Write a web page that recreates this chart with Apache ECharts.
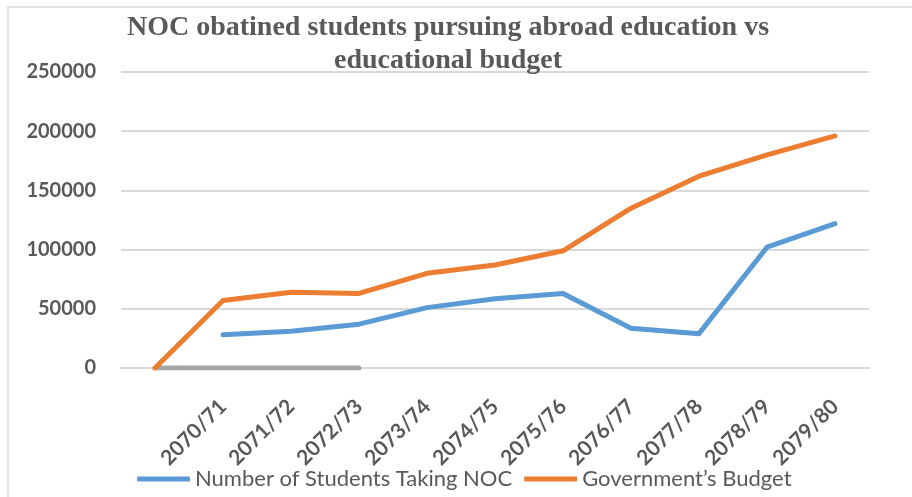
<!DOCTYPE html>
<html>
<head>
<meta charset="utf-8">
<script src="https://cdn.jsdelivr.net/npm/echarts@6/dist/echarts.min.js"></script>
<style>
html,body{margin:0;padding:0;background:#fff;}
#chart{width:912px;height:497px;}
</style>
</head>
<body>
<div id="chart"></div>
<script>
var categories = ['', '2070/71', '2071/72', '2072/73', '2073/74', '2074/75', '2075/76', '2076/77', '2077/78', '2078/79', '2079/80'];
var studentsNOC = [null, 28000, 31000, 37000, 51000, 58500, 63000, 33500, 29000, 102000, 122000];
var govBudget = [0, 57000, 64000, 63000, 80000, 87000, 99000, 135000, 162000, 180000, 196000];
var series3 = [0, 0, 0, 0, null, null, null, null, null, null, null];
var yTicks = { min: 0, max: 250000, interval: 50000 };

var chart = echarts.init(document.getElementById('chart'), null, { renderer: 'canvas' });
var labelFont = 'Lato';
chart.setOption({
  animation: false,
  backgroundColor: '#ffffff',
  title: {
    text: 'NOC obatined students pursuing abroad education vs\neducational budget',
    left: 448,
    top: 11,
    padding: 0,
    textAlign: 'center',
    textStyle: {
      fontFamily: 'Liberation Serif',
      fontWeight: 'bold',
      fontSize: 28,
      lineHeight: 33,
      color: '#595959'
    }
  },
  graphic: [{
    type: 'rect',
    shape: { x: 8, y: 7, width: 1200, height: 1200 },
    style: { fill: 'none', stroke: '#d9d9d9', lineWidth: 1.5 },
    silent: true,
    z: -1
  }],
  legend: {
    data: ['Number of Students Taking NOC', 'Government\u2019s Budget'],
    left: 137,
    top: 468,
    padding: 0,
    itemWidth: 53,
    itemHeight: 5,
    itemGap: 12,
    icon: 'roundRect',
    textStyle: { fontFamily: labelFont, fontSize: 22, color: '#595959' }
  },
  grid: { left: 121, right: 43, top: 72, bottom: 129 },
  xAxis: {
    type: 'category',
    data: categories,
    boundaryGap: true,
    axisLine: { show: true, lineStyle: { color: '#d9d9d9', width: 2 } },
    axisTick: { show: false },
    axisLabel: {
      rotate: 45,
      interval: 0,
      margin: 35,
      fontFamily: labelFont,
      fontWeight: 'bold',
      fontSize: 21,
      color: '#595959'
    }
  },
  yAxis: {
    type: 'value',
    min: yTicks.min,
    max: yTicks.max,
    interval: yTicks.interval,
    axisLine: { show: false },
    axisTick: { show: false },
    splitLine: { lineStyle: { color: '#d9d9d9', width: 2 } },
    axisLabel: {
      margin: 25,
      fontFamily: labelFont,
      fontWeight: 'bold',
      fontSize: 20,
      color: '#595959',
      formatter: function (v) { return String(v); }
    }
  },
  series: [
    {
      name: 'Number of Students Taking NOC',
      type: 'line',
      data: studentsNOC,
      symbol: 'none',
      color: '#5b9bd5',
      lineStyle: { width: 5, color: '#5b9bd5', cap: 'round', join: 'round' },
      z: 3
    },
    {
      name: 'Government\u2019s Budget',
      type: 'line',
      data: govBudget,
      symbol: 'none',
      color: '#ed7d31',
      lineStyle: { width: 5, color: '#ed7d31', cap: 'round', join: 'round' },
      z: 3
    },
    {
      name: 'Series 3',
      type: 'line',
      data: series3,
      symbol: 'none',
      color: '#a5a5a5',
      lineStyle: { width: 5, color: '#a5a5a5', cap: 'round' },
      z: 2
    }
  ]
});
</script>
</body>
</html>
